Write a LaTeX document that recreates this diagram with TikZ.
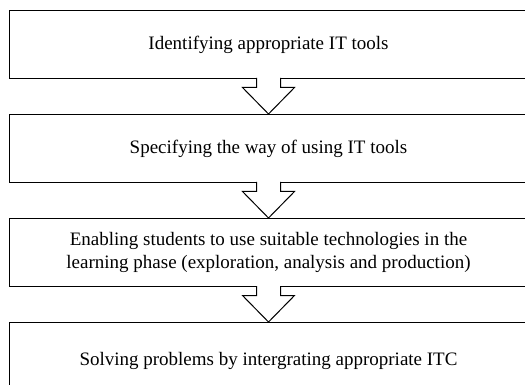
\documentclass[tikz,border=0pt]{standalone}
\usepackage{fontspec}
\setmainfont{Liberation Serif}
\usetikzlibrary{positioning, calc}

\begin{document}
\begin{tikzpicture}[x=1pt, y=1pt,
block/.style={rectangle, draw, line width=1pt, minimum width=518pt,
minimum height=68pt, text centered, align=center,
font=\fontsize{19}{23}\selectfont},
hollow/.style={draw, fill=white, line width=1pt, line join=miter}
]
\useasboundingbox (0,0) rectangle (525,-385);
\clip (0,0) rectangle (525,-385);
\node [block] (ident) at (268.5,-44.5) {Identifying appropriate IT tools};
\node [block, below=35pt of ident] (spec) {Specifying the way of using IT tools};
\node [block, below=35pt of spec] (enable) {Enabling students to use suitable technologies in the\\
learning phase (exploration, analysis and production)};
\node [block, below=35pt of enable, minimum height=76pt] (solve) {Solving problems by intergrating appropriate ITC};

% hollow arrows between the steps
\foreach \a/\b in {ident/spec, spec/enable, enable/solve}
\path [hollow] ($(\a.south)+(-12,1)$) -- ++(0,-9.5) -- ++(-14,0) -- (\b.north)
-- ($(\a.south)+(26,-8.5)$) -- ++(-14,0) -- ++(0,9.5);
\end{tikzpicture}
\end{document}
